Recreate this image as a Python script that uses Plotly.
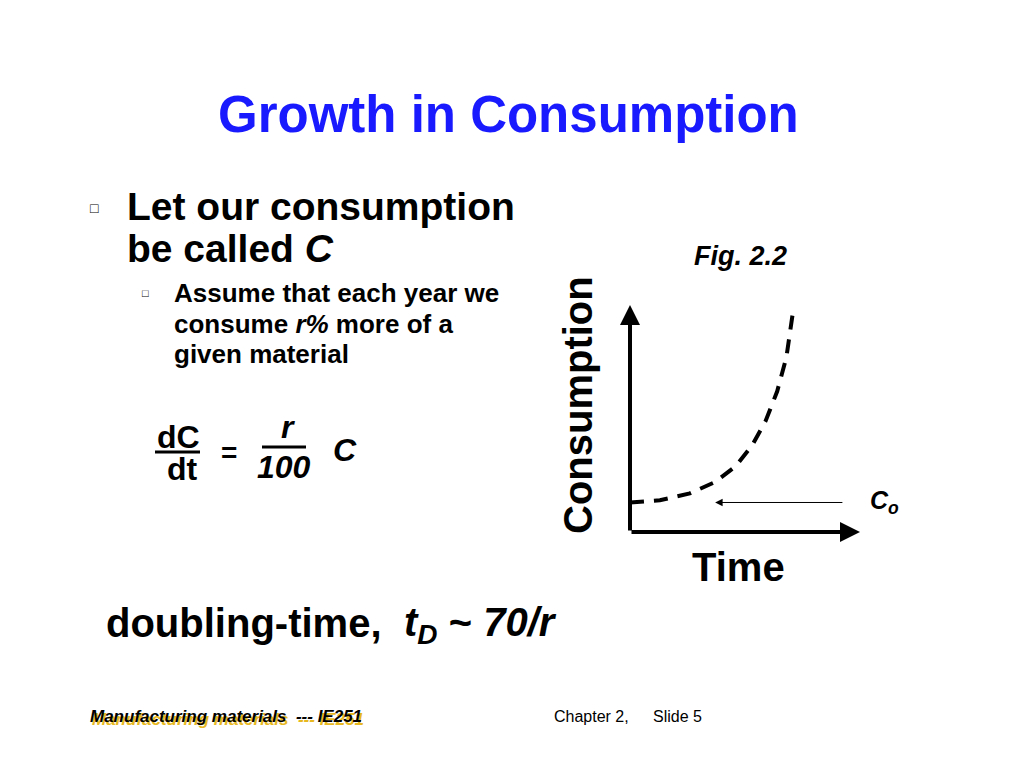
import plotly.graph_objects as go

# points (time, consumption)
time_pts = [0, 1.3, 2.6, 3.7, 4.6, 5.3, 5.9, 6.4, 6.8, 7.1]
cons_pts = [1.3, 1.4, 1.7, 2.2, 2.9, 3.8, 4.9, 6.2, 7.7, 9.8]
c0 = 1.3

W, H = 1024, 768
OFF = 8  # page body margin
FONT = "Liberation Sans, Arial, sans-serif"

fig = go.Figure()
fig.add_trace(go.Scatter(x=time_pts, y=cons_pts, mode="lines",
                         line=dict(color="black", width=4, dash="14px,10px"),
                         showlegend=False, hoverinfo="skip"))


def txt(x, y, text, size, color="black", anchor="left", bold=True, italic=False, angle=0):
    if bold:
        text = "<b>" + text + "</b>"
    if italic:
        text = "<i>" + text + "</i>"
    fig.add_annotation(x=(x - OFF) / W, y=1 - (y - OFF) / H, xref="paper", yref="paper",
                       text=text, showarrow=False, xanchor=anchor, yanchor="middle",
                       textangle=angle, font=dict(family=FONT, size=size, color=color))


txt(508, 115, "Growth in Consumption", 51, color="#1a1aff", anchor="center")
txt(88, 208, "□", 14, bold=False)
txt(125, 206, "Let our consumption", 39)
txt(125, 248, "be called <i>C</i>", 39)
txt(140, 293, "□", 11, bold=False)
txt(172, 293, "Assume that each year we", 26)
txt(172, 324, "consume <i>r%</i> more of a", 26)
txt(172, 354, "given material", 26)

# formula
txt(178, 437, "dC", 32, anchor="center")
txt(182, 469, "dt", 32, anchor="center")
txt(229, 452, "=", 28, anchor="center")
txt(288, 427, "r", 32, anchor="center", italic=True)
txt(284, 467, "100", 32, anchor="center", italic=True)
txt(345, 450, "C", 32, anchor="center", italic=True)
for x0, x1, y in [(155, 200, 452), (262, 306, 447)]:
    fig.add_shape(type="line", xref="paper", yref="paper",
                  x0=(x0 - OFF) / W, x1=(x1 - OFF) / W, y0=1 - (y - OFF) / H, y1=1 - (y - OFF) / H,
                  line=dict(color="black", width=3))

txt(104, 623, "doubling-time,", 40)
txt(402, 625, "<i>t<sub>D</sub></i> ~ <i>70/r</i>", 40)

txt(740, 256, "Fig. 2.2", 27, anchor="center", italic=True)
txt(578, 405, "Consumption", 40, anchor="center", angle=-90)
txt(738, 567, "Time", 40, anchor="center")
txt(868, 502, "<i>C<sub>o</sub></i>", 25)

# footer with yellow shadow
txt(90, 719, "<i>Manufacturing materials  --- IE251</i>", 17, color="#e8b820")
txt(88, 716, "<i>Manufacturing materials  --- IE251</i>", 17)
txt(552, 716, "Chapter 2,", 16, bold=False)
txt(651, 716, "Slide 5", 16, bold=False)

# axes arrows
for (x_, y_) in [(0, 10), (10, 0)]:
    fig.add_annotation(x=x_, y=y_, ax=0, ay=0, xref="x", yref="y", axref="x", ayref="y",
                       showarrow=True, arrowhead=2, arrowsize=1, arrowwidth=4,
                       arrowcolor="black", text="")
fig.add_annotation(x=3.7, y=c0, ax=9.3, ay=c0, xref="x", yref="y", axref="x", ayref="y",
                   showarrow=True, arrowhead=2, arrowsize=1.5, arrowwidth=1,
                   arrowcolor="black", text="")

fig.update_layout(
    width=W, height=H, margin=dict(l=0, r=0, t=0, b=0),
    paper_bgcolor="white", plot_bgcolor="white",
    xaxis=dict(domain=[(630 - OFF) / W, (860 - OFF) / W], range=[0, 10], visible=False, fixedrange=True),
    yaxis=dict(domain=[1 - (532 - OFF) / H, 1 - (305 - OFF) / H], range=[0, 10], visible=False, fixedrange=True),
)
fig.write_html("out.html")
